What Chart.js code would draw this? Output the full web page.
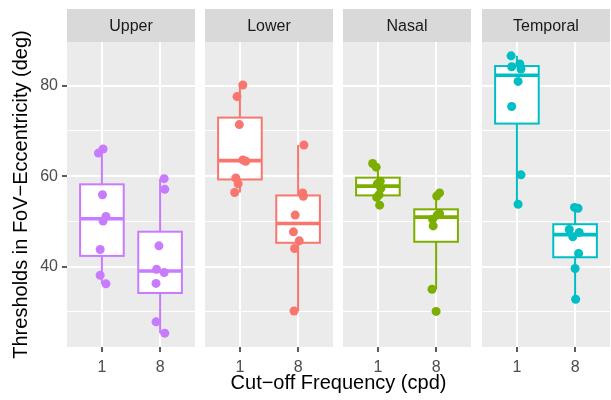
<!DOCTYPE html>
<html>
<head>
<meta charset="utf-8">
<script src="https://cdn.jsdelivr.net/npm/chart.js@4"></script>
<style>
  html, body { margin: 0; padding: 0; background: #fff; }
  #wrap { position: relative; width: 611px; height: 400px; overflow: hidden; }
  canvas { position: absolute; top: 0; }
  #xtitle {
    position: absolute; left: 67px; width: 543px; top: 371px;
    text-align: center; line-height: 24px;
    font: 20px "Liberation Sans", Arial, sans-serif; color: #000;
  }
</style>
</head>
<body>
<div id="wrap">
  <canvas id="p0" width="195" height="400" style="left:0"></canvas>
  <canvas id="p1" width="128" height="400" style="left:205px"></canvas>
  <canvas id="p2" width="128" height="400" style="left:343px"></canvas>
  <canvas id="p3" width="128" height="400" style="left:482px"></canvas>
  <div id="xtitle">Cut−off Frequency (cpd)</div>
</div>
<script>
// facets, x categories and colours
const regions = ['Upper', 'Lower', 'Nasal', 'Temporal'];
const freqLabels = ['1', '8'];
const colors = ['#C77CFF', '#F8766D', '#7CAE00', '#00BFC4'];

// thresholds (deg) per region and cut-off frequency
const upper1 = [66.0, 65.1, 55.9, 51.1, 50.1, 43.8, 38.1, 36.2];
const upper8 = [59.45, 57.1, 44.6, 39.4, 38.7, 36.3, 27.8, 25.3];
const lower1 = [80.15, 77.6, 71.4, 63.6, 63.3, 59.6, 58.3, 56.4];
const lower8 = [66.9, 56.3, 55.55, 51.4, 47.7, 45.7, 44.0, 30.2];
const nasal1 = [62.8, 62.0, 58.9, 58.3, 57.3, 55.9, 55.3, 53.6];
const nasal8 = [56.3, 55.6, 51.7, 51.4, 50.5, 49.0, 35.0, 30.1];
const temporal1 = [86.6, 84.8, 84.2, 83.7, 80.95, 75.4, 60.3, 53.8];
const temporal8 = [53.1, 52.9, 48.2, 47.55, 46.6, 42.9, 39.6, 32.8];

// horizontal jitter of each point (x-axis units)
const upper1Jit = [0.02, -0.06, 0.01, 0.07, 0.02, -0.03, -0.03, 0.07];
const upper8Jit = [0.07, 0.08, -0.02, -0.06, 0.07, -0.07, -0.07, 0.08];
const lower1Jit = [0.05, -0.05, -0.01, 0.05, 0.10, -0.07, -0.03, -0.09];
const lower8Jit = [0.10, 0.08, 0.09, -0.05, -0.08, 0.02, -0.06, -0.07];
const nasal1Jit = [-0.09, -0.03, 0.04, -0.01, 0.05, 0.02, -0.02, 0.03];
const nasal8Jit = [0.06, 0.01, 0.06, 0.02, -0.06, -0.05, -0.07, 0.00];
const temporal1Jit = [-0.10, 0.05, -0.09, 0.07, 0.02, -0.09, 0.07, 0.02];
const temporal8Jit = [-0.01, 0.05, -0.10, 0.07, -0.04, 0.06, 0.00, 0.01];

const series = [[upper1, upper8], [lower1, lower8], [nasal1, nasal8], [temporal1, temporal8]];
const jitters = [[upper1Jit, upper8Jit], [lower1Jit, lower8Jit], [nasal1Jit, nasal8Jit], [temporal1Jit, temporal8Jit]];

Chart.defaults.font.family = '"Liberation Sans", Arial, sans-serif';

// shared y range with 5% expansion like ggplot
const allVals = series.flat(2);
const dMin = Math.min(...allVals);
const dMax = Math.max(...allVals);
const yMin = dMin - (dMax - dMin) * 0.05;
const yMax = dMax + (dMax - dMin) * 0.05;

function quantile(vals, p) {
  const s = [...vals].sort((a, b) => a - b);
  const h = (s.length - 1) * p;
  const lo = Math.floor(h);
  const hi = Math.min(lo + 1, s.length - 1);
  return s[lo] + (h - lo) * (s[hi] - s[lo]);
}

function boxStats(vals) {
  const q1 = quantile(vals, 0.25);
  const med = quantile(vals, 0.5);
  const q3 = quantile(vals, 0.75);
  const iqr = q3 - q1;
  const inside = vals.filter(v => v >= q1 - 1.5 * iqr && v <= q3 + 1.5 * iqr);
  return { q1, med, q3, lo: Math.min(...inside), hi: Math.max(...inside) };
}

// panel background, strip and boxplots
function facetPlugin(i) {
  return {
    id: 'facet' + i,
    beforeDraw(chart) {
      const { ctx, chartArea: a } = chart;
      ctx.save();
      ctx.fillStyle = '#EBEBEB';
      ctx.fillRect(a.left, a.top, a.right - a.left, a.bottom - a.top);
      ctx.fillStyle = '#D9D9D9';
      ctx.fillRect(a.left, 9, a.right - a.left, a.top - 9);
      ctx.fillStyle = '#1A1A1A';
      ctx.font = '16px "Liberation Sans", Arial, sans-serif';
      ctx.textAlign = 'center';
      ctx.textBaseline = 'middle';
      ctx.fillText(regions[i], (a.left + a.right) / 2, (9 + a.top) / 2 + 1);
      ctx.restore();
    },
    beforeDatasetsDraw(chart) {
      const { ctx, scales: { x, y } } = chart;
      ctx.save();
      ctx.strokeStyle = colors[i];
      series[i].forEach((vals, g) => {
        const st = boxStats(vals);
        const cx = x.getPixelForValue(g + 1);
        const left = x.getPixelForValue(g + 1 - 0.375);
        const right = x.getPixelForValue(g + 1 + 0.375);
        const top = y.getPixelForValue(st.q3);
        const bot = y.getPixelForValue(st.q1);
        ctx.lineWidth = 2;
        ctx.beginPath();
        ctx.moveTo(cx, y.getPixelForValue(st.hi));
        ctx.lineTo(cx, top);
        ctx.moveTo(cx, bot);
        ctx.lineTo(cx, y.getPixelForValue(st.lo));
        ctx.stroke();
        ctx.fillStyle = '#FFFFFF';
        ctx.fillRect(left, top, right - left, bot - top);
        ctx.strokeRect(left, top, right - left, bot - top);
        ctx.lineWidth = 3.6;
        ctx.beginPath();
        const my = y.getPixelForValue(st.med);
        ctx.moveTo(left, my);
        ctx.lineTo(right, my);
        ctx.stroke();
      });
      ctx.restore();
    }
  };
}

function makePanel(i) {
  const first = i === 0;
  const canvas = document.getElementById('p' + i);
  const datasets = series[i].map((vals, g) => ({
    data: vals.map((v, k) => ({ x: g + 1 + jitters[i][g][k], y: v })),
    backgroundColor: colors[i],
    pointRadius: 4.5,
    pointHoverRadius: 4.5,
    borderWidth: 0
  }));
  const isMajor = c => c.tick && Math.round(c.tick.value) % 20 === 0;

  return new Chart(canvas.getContext('2d'), {
    type: 'scatter',
    data: { datasets },
    options: {
      responsive: false,
      animation: false,
      events: [],
      layout: { autoPadding: false, padding: { top: 42, left: 0, right: 0, bottom: 0 } },
      plugins: { legend: { display: false }, tooltip: { enabled: false } },
      scales: {
        x: {
          type: 'linear',
          min: 0.4,
          max: 2.6,
          afterBuildTicks: s => { s.ticks = freqLabels.map((_, k) => ({ value: k + 1 })); },
          afterFit: s => {
            s.height = 53;
            s.paddingLeft = 0;
            s.paddingRight = 0;
          },
          ticks: {
            callback: v => freqLabels[v - 1],
            color: '#4D4D4D',
            font: { size: 16 },
            padding: 6,
            maxRotation: 0,
            autoSkip: false
          },
          grid: { color: '#FFFFFF', lineWidth: 2, tickColor: '#333333', tickLength: 5, tickWidth: 1.6 },
          border: { display: false }
        },
        y: {
          min: yMin,
          max: yMax,
          afterFit: s => {
            s.width = first ? 67 : 0;
            s.paddingTop = 0;
            s.paddingBottom = 0;
          },
          ticks: {
            display: first,
            stepSize: 10,
            includeBounds: false,
            callback: v => (Math.round(v) % 20 === 0 ? String(v) : ''),
            color: '#4D4D4D',
            font: { size: 16 },
            padding: 4
          },
          grid: {
            color: '#FFFFFF',
            lineWidth: c => (isMajor(c) ? 2 : 1),
            drawTicks: first,
            tickColor: c => (isMajor(c) ? '#333333' : 'rgba(0,0,0,0)'),
            tickLength: 5,
            tickWidth: 1.6
          },
          border: { display: false },
          title: {
            display: first,
            text: 'Thresholds in FoV−Eccentricity (deg)',
            color: '#000000',
            font: { size: 20 },
            padding: { top: 9, bottom: 0 }
          }
        }
      }
    },
    plugins: [facetPlugin(i)]
  });
}

regions.forEach((_, i) => makePanel(i));
</script>
</body>
</html>
